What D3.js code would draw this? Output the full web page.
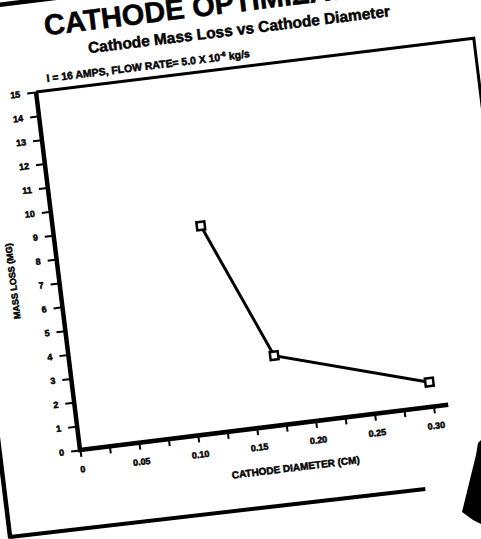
<!DOCTYPE html>
<html>
<head>
<meta charset="utf-8">
<script src="https://cdn.jsdelivr.net/npm/d3@7"></script>
<style>
	html, body { margin: 0; padding: 0; background: #fff; }
	svg { display: block; }
	text { font-family: "Liberation Sans", Arial, sans-serif; font-weight: bold; fill: #000; stroke: #000; stroke-width: 0.5; }
</style>
</head>
<body>
<div id="chart"></div>
<script>
// values, in the chart's own (un-rotated) frame
const diameterCm = [0.124, 0.172, 0.299];
const massLossMg = [8.64, 2.91, 1.03];

const xTickValues = [0, 0.05, 0.10, 0.15, 0.20, 0.25, 0.30];
const xMinorTicks = [0.025, 0.075, 0.125, 0.175, 0.225, 0.275];
const yTickValues = [0, 1, 2, 3, 4, 5, 6, 7, 8, 9, 10, 11, 12, 13, 14, 15];

const titleText = 'CATHODE OPTIMIZATION';
const subtitleText = 'Cathode Mass Loss vs Cathode Diameter';
const conditionText = 'I = 16 AMPS, FLOW RATE= 5.0 X 10';
const conditionExp = '-6';
const conditionUnit = ' kg/s';
const xLabel = 'CATHODE DIAMETER (CM)';
const yLabel = 'MASS LOSS (MG)';

// 1. page size and the tilt of the scanned sheet
const W = 481, H = 539;
const tilt = -7;
const origin = { x: 80, y: 450 };   // where the axes meet on the page
const plotW = 371, plotH = 360.7;

const svg = d3.select('#chart')
	.append('svg')
	.attr('width', W)
	.attr('height', H);

svg.append('rect').attr('width', W).attr('height', H).attr('fill', '#fff');

// everything of the slide sits in one rotated group, top-left of plot = (0,0)
const g = svg.append('g')
	.attr('transform', `translate(${origin.x},${origin.y}) rotate(${tilt}) translate(0,${-plotH})`);

// 2. scales
const x = d3.scaleLinear().domain([0, 0.3125]).range([0, plotW]);
const y = d3.scaleLinear().domain([0, 15]).range([plotH, 0]);

// 3. slide frame (left, top and bottom edges of the sheet)
g.append('path')
	.attr('d', 'M-80,440 L-80,-91 L520,-91')
	.attr('fill', 'none')
	.attr('stroke', '#000')
	.attr('stroke-width', 4.5);
g.append('line')
	.attr('x1', -80).attr('y1', 438.5)
	.attr('x2', 338).attr('y2', 441.5)
	.attr('stroke', '#000')
	.attr('stroke-width', 4);

// top and right edge of the plot box
g.append('path')
	.attr('d', `M0,${y(15)} L441,${y(15)} L441,${y(0)}`)
	.attr('fill', 'none')
	.attr('stroke', '#000')
	.attr('stroke-width', 3);

// 4. titles
g.append('text')
	.attr('x', 16).attr('y', -55)
	.attr('font-size', 29)
	.attr('stroke-width', 1)
	.text(titleText);

g.append('text')
	.attr('x', 57).attr('y', -32)
	.attr('font-size', 15.5)
	.attr('stroke-width', 0.6)
	.text(subtitleText);

const cond = g.append('text')
	.attr('x', 12).attr('y', -8.5)
	.attr('font-size', 10.5);
cond.append('tspan').text(conditionText);
cond.append('tspan').attr('font-size', 6.5).attr('dy', -4).text(conditionExp);
cond.append('tspan').attr('dy', 4).text(conditionUnit);

// 5. axes: ticks and labels
const yAxis = g.append('g')
	.call(d3.axisLeft(y)
		.tickValues(yTickValues)
		.tickFormat(d3.format('d'))
		.tickSize(9)
		.tickSizeOuter(0)
		.tickPadding(7));
yAxis.select('.domain').remove();
yAxis.selectAll('line').attr('stroke', '#000').attr('stroke-width', 2);
yAxis.selectAll('text')
	.attr('font-size', 9)
	.attr('font-family', '"Liberation Sans", Arial, sans-serif')
	.attr('font-weight', 'bold')
	.attr('stroke', '#000')
	.attr('stroke-width', 0.5);

const xAxis = g.append('g')
	.attr('transform', `translate(0,${plotH})`)
	.call(d3.axisBottom(x)
		.tickValues(xTickValues.concat(xMinorTicks))
		.tickFormat(d => xTickValues.includes(d) ? (d === 0 ? '0' : d3.format('.2f')(d)) : '')
		.tickSize(7)
		.tickSizeOuter(0)
		.tickPadding(9));
xAxis.select('.domain').remove();
xAxis.selectAll('line').attr('stroke', '#000').attr('stroke-width', 2);
xAxis.selectAll('text')
	.attr('font-size', 9)
	.attr('font-family', '"Liberation Sans", Arial, sans-serif')
	.attr('font-weight', 'bold')
	.attr('stroke', '#000')
	.attr('stroke-width', 0.5);

// heavy axis lines, drawn as one L so the corner is square
g.append('path')
	.datum([[0, 15], [0, 0], [0.3125, 0]])
	.attr('d', d3.line().x(d => x(d[0])).y(d => y(d[1])))
	.attr('fill', 'none')
	.attr('stroke', '#000')
	.attr('stroke-width', 4.5)
	.attr('stroke-linejoin', 'miter');

// axis titles
g.append('text')
	.attr('x', 212).attr('y', plotH + 47)
	.attr('text-anchor', 'middle')
	.attr('font-size', 10)
	.text(xLabel);

g.append('text')
	.attr('transform', `translate(-43,185) rotate(-90)`)
	.attr('text-anchor', 'middle')
	.attr('font-size', 9)
	.text(yLabel);

// 6. the data line and open square markers
const pts = diameterCm.map((d, i) => [d, massLossMg[i]]);

g.append('path')
	.datum(pts)
	.attr('d', d3.line().x(d => x(d[0])).y(d => y(d[1])))
	.attr('fill', 'none')
	.attr('stroke', '#000')
	.attr('stroke-width', 3);

g.selectAll('rect.pt')
	.data(pts)
	.join('rect')
	.attr('class', 'pt')
	.attr('x', d => x(d[0]) - 4)
	.attr('y', d => y(d[1]) - 4)
	.attr('width', 8)
	.attr('height', 8)
	.attr('fill', '#fff')
	.attr('stroke', '#000')
	.attr('stroke-width', 2.5);

// dark object at the right edge of the photo
svg.append('path')
	.attr('d', 'M478,443 L481,440 L481,524 L473,520 L462,512 L476,455 Z')
	.attr('fill', '#000');
</script>
</body>
</html>
